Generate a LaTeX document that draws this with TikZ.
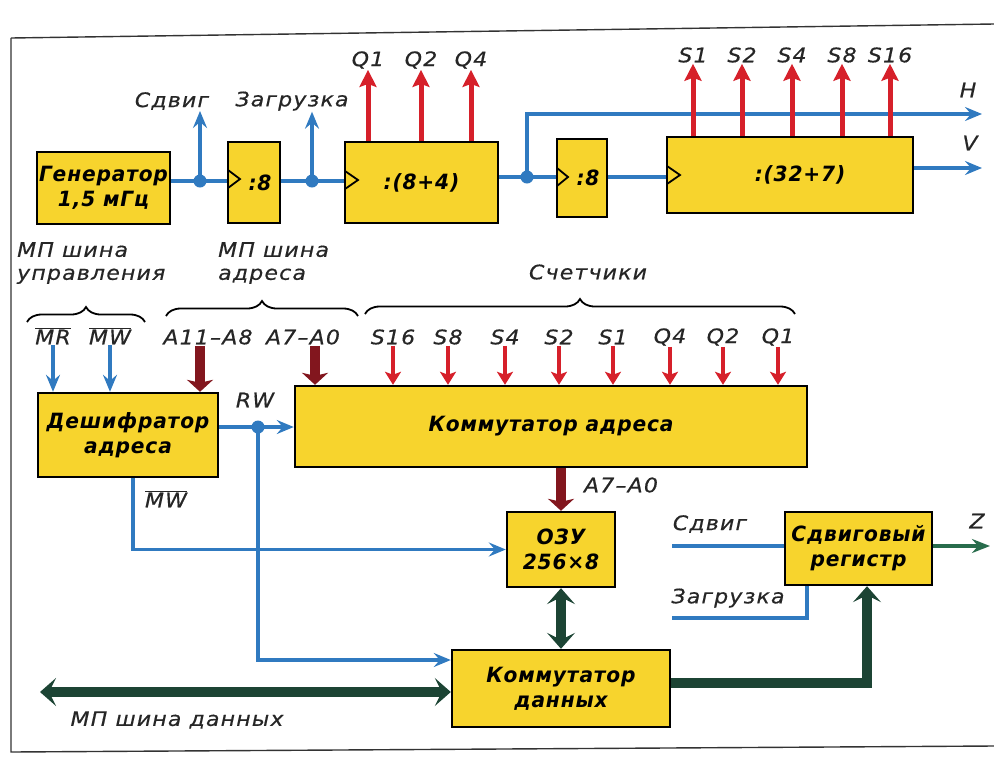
\documentclass[tikz,border=0pt]{standalone}
\usepackage{fontspec}
\newfontfamily\draft[FakeStretch=1.1,LetterSpace=6,FakeBold=0.5]{DejaVu Sans}
\newfontfamily\boxface[FakeStretch=0.96,LetterSpace=4]{DejaVu Sans}
\usetikzlibrary{arrows.meta,positioning,calc,decorations.pathreplacing}
\definecolor{boxyellow}{RGB}{247,212,45}
\definecolor{sigblue}{RGB}{48,122,192}
\definecolor{outred}{RGB}{214,32,42}
\definecolor{adrred}{RGB}{130,22,30}
\definecolor{datgreen}{RGB}{28,68,52}
\definecolor{zgreen}{RGB}{40,108,76}
\newcommand\boxfnt{\boxface\bfseries\itshape\fontsize{21}{25}\selectfont}
\newcommand\lblfnt{\draft\itshape\fontsize{20}{23}\selectfont}
\tikzset{
  blok/.style={draw, line width=2.4pt, fill=boxyellow, align=center,
               font=\boxfnt, inner sep=2pt},
  lbl/.style={font=\lblfnt, text=black!85, inner sep=1pt},
  sig/.style={draw=sigblue, line width=3.8pt},
  sigarr/.style={sig, -{Stealth[length=17pt,width=14pt,inset=6pt]}},
  outarr/.style={draw=outred, line width=5pt, -{Stealth[length=17pt,width=17pt,inset=3pt]}},
  inarr/.style={draw=outred, line width=4pt, -{Stealth[length=13pt,width=16pt,inset=3pt]}},
  adrbus/.style={draw=adrred, line width=10pt, -{Stealth[length=12pt,width=26pt,inset=3pt]}},
  datbus/.style={draw=datgreen, line width=10pt},
  dattip/.tip={Stealth[length=16pt,width=28pt,inset=7pt]},
  junc/.style={circle, fill=sigblue, inner sep=0pt, minimum size=13pt},
  klok/.style={draw, line width=1.8pt},
  brc/.style={decorate, decoration={brace, amplitude=15pt}, line width=1.8pt},
}

\begin{document}
\begin{tikzpicture}[x=1pt, y=-1pt]
  \useasboundingbox (0,0) rectangle (994,756);
  % frame
  \draw[line width=1.4pt, black!80] (11,38) -- (994,24);
  \draw[line width=1.4pt, black!80] (11,38) -- (11,752) -- (994,746);

  % --- top row: generator and counters
  \node[blok, minimum width=133pt, minimum height=72pt] (gen) at (103.5,188) {Генератор\\1,5 мГц};
  \node[blok, minimum width=52pt, minimum height=81pt] (div1) at (254,182.5) {\hspace{12pt}:8};
  \node[blok, minimum width=153pt, minimum height=81pt] (cnt1) at (421.5,182.5) {:(8+4)};
  \node[blok, minimum width=50pt, minimum height=78pt] (div2) at (582,178) {\hspace{12pt}:8};
  \node[blok, minimum width=246pt, minimum height=76pt] (cnt2) at (790,175) {\hspace{20pt}:(32+7)};
  \draw[klok] (228,170) -- (240,179) -- (228,188);
  \draw[klok] (345,171) -- (358,180) -- (345,189);
  \draw[klok] (557,168) -- (568,177) -- (557,186);
  \draw[klok] (667,166) -- (680,175) -- (667,184);

  \coordinate (j1) at (200,181);
  \coordinate (j2) at (312,181);
  \coordinate (j3) at (527,177);
  \node[lbl] (sdv1) at (172,101) {Сдвиг};
  \node[lbl] (zag1) at (292,101) {Загрузка};
  \draw[sig] (gen.east |- j1) -- (j1);
  \draw[sig] (j1) -- (div1.west |- j1);
  \draw[sig] (div1.east |- j2) -- (j2);
  \draw[sig] (j2) -- (cnt1.west |- j2);
  \draw[sigarr] (j1) -- (j1 |- sdv1.south);
  \draw[sigarr] (j2) -- (j2 |- zag1.south);
  \draw[sig] (cnt1.east |- j3) -- (j3);
  \draw[sig] (j3) -- (div2.west |- j3);
  \draw[sig] (div2.east |- j3) -- (cnt2.west |- j3);
  \node[lbl] (hh) at (968,90) {H};
  \node[lbl] (vv) at (970,143) {V};
  \coordinate (hend) at (982,114);
  \coordinate (vend) at (982,168);
  \draw[sigarr] (j3) |- (hend);
  \draw[sigarr] (cnt2.east |- vend) -- (vend);
  \node[junc] at (j1) {};
  \node[junc] at (j2) {};
  \node[junc] at (j3) {};

  \foreach \x/\nm/\t in {368/q1/Q1, 421/q2/Q2, 471/q4/Q4} {
    \node[lbl] (\nm) at (\x,60) {\t};
    \draw[outarr] (\nm |- cnt1.north) -- (\nm.south);
  }
  \foreach \x/\nm/\t in {693/s1/S1, 742/s2/S2, 792/s4/S4, 842/s8/S8, 890/s16/S16} {
    \node[lbl] (\nm) at (\x,55) {\t};
    \draw[outarr] (\nm |- cnt2.north) -- (\nm.south);
  }

  % --- bus groups
  \node[lbl, anchor=north west, align=left] (ctlbus) at (16,241) {МП шина\\управления};
  \node[lbl, anchor=north west, align=left] (adrgrp) at (217,241) {МП шина\\адреса};
  \node[lbl] (cntgrp) at (588,272) {Счетчики};
  \draw[brc] (27,322) -- (145,322);
  \draw[brc] (166,316) -- (358,316);
  \draw[brc] (365,314) -- (795,314);

  \node[blok, minimum width=180pt, minimum height=84pt] (dec) at (128,435) {Дешифратор\\адреса};
  \node[blok, minimum width=512pt, minimum height=81pt] (kadr) at (551,426.5) {Коммутатор адреса};

  \node[lbl] (mr) at (53,336) {$\overline{\hbox{\lblfnt MR}}$};
  \node[lbl] (mw) at (110,336) {$\overline{\hbox{\lblfnt MW}}$};
  \node[lbl] (a118) at (208,337) {A11–A8};
  \node[lbl] (a70) at (303,337) {A7–A0};
  \draw[sigarr] (mr.south) -- (mr.south |- dec.north);
  \draw[sigarr] (mw.south) -- (mw.south |- dec.north);
  \draw[adrbus] ([xshift=-8pt]a118.south) -- ([xshift=-8pt]a118.south |- dec.north);
  \draw[adrbus] ([xshift=12pt]a70.south) -- ([xshift=12pt]a70.south |- kadr.north);
  \foreach \x/\nm/\t in {393/c1/S16, 448/c2/S8, 505/c3/S4, 559/c4/S2, 613/c5/S1, 670/c6/Q4, 723/c7/Q2, 778/c8/Q1} {
    \node[lbl] (\nm) at (\x,337) {\t};
    \draw[inarr] (\nm.south) -- (\nm.south |- kadr.north);
  }

  % --- RW and MW
  \coordinate (j4) at (258,427);
  \node[lbl] (rw) at (255,400) {RW};
  \draw[sig] (dec.east |- j4) -- (j4);
  \draw[sigarr] (j4) -- (kadr.west |- j4);
  \node[junc] at (j4) {};

  \node[blok, minimum width=108pt, minimum height=75pt] (ram) at (561,549.5) {ОЗУ\\256\texttimes8};
  \node[blok, minimum width=218pt, minimum height=77pt] (kdat) at (561,688.5) {Коммутатор\\данных};
  \node[blok, minimum width=147pt, minimum height=73pt] (sreg) at (858.5,548.5) {Сдвиговый\\регистр};

  \draw[sigarr] (j4) |- ([yshift=28.5pt]kdat.west);
  \node[lbl] (mwbar) at (166,499) {$\overline{\hbox{\lblfnt MW}}$};
  \draw[sigarr] ([xshift=5pt]dec.south) |- (ram.west);

  \draw[adrbus] (ram.north |- kadr.south) -- (ram.north);
  \node[lbl] (a70b) at (621,485) {A7–A0};
  \draw[datbus, dattip-dattip] (ram.south) -- (ram.south |- kdat.north);

  % --- data bus and shift register
  \coordinate (busend) at (40,692);
  \draw[datbus, dattip-dattip] (busend) -- (busend -| kdat.west);
  \node[lbl] (datlbl) at (177,720) {МП шина данных};
  \draw[datbus, -dattip] ([yshift=5.5pt]kdat.east) -| ([xshift=8.5pt]sreg.south);

  \coordinate (sdvin) at (672,546);
  \coordinate (zagin) at (672,618);
  \node[lbl] (sdv2) at (710,524) {Сдвиг};
  \node[lbl] (zag2) at (728,598) {Загрузка};
  \draw[sig] (sdvin) -- (sdvin -| sreg.west);
  \draw[sig] (zagin) -| ([xshift=-51.5pt]sreg.south);
  \node[lbl] (zz) at (977,521) {Z};
  \coordinate (zend) at (990,546);
  \draw[draw=zgreen, line width=4pt, -{Stealth[length=18pt,width=14pt,inset=6pt]}] (sreg.east |- zend) -- (zend);
\end{tikzpicture}
\end{document}
